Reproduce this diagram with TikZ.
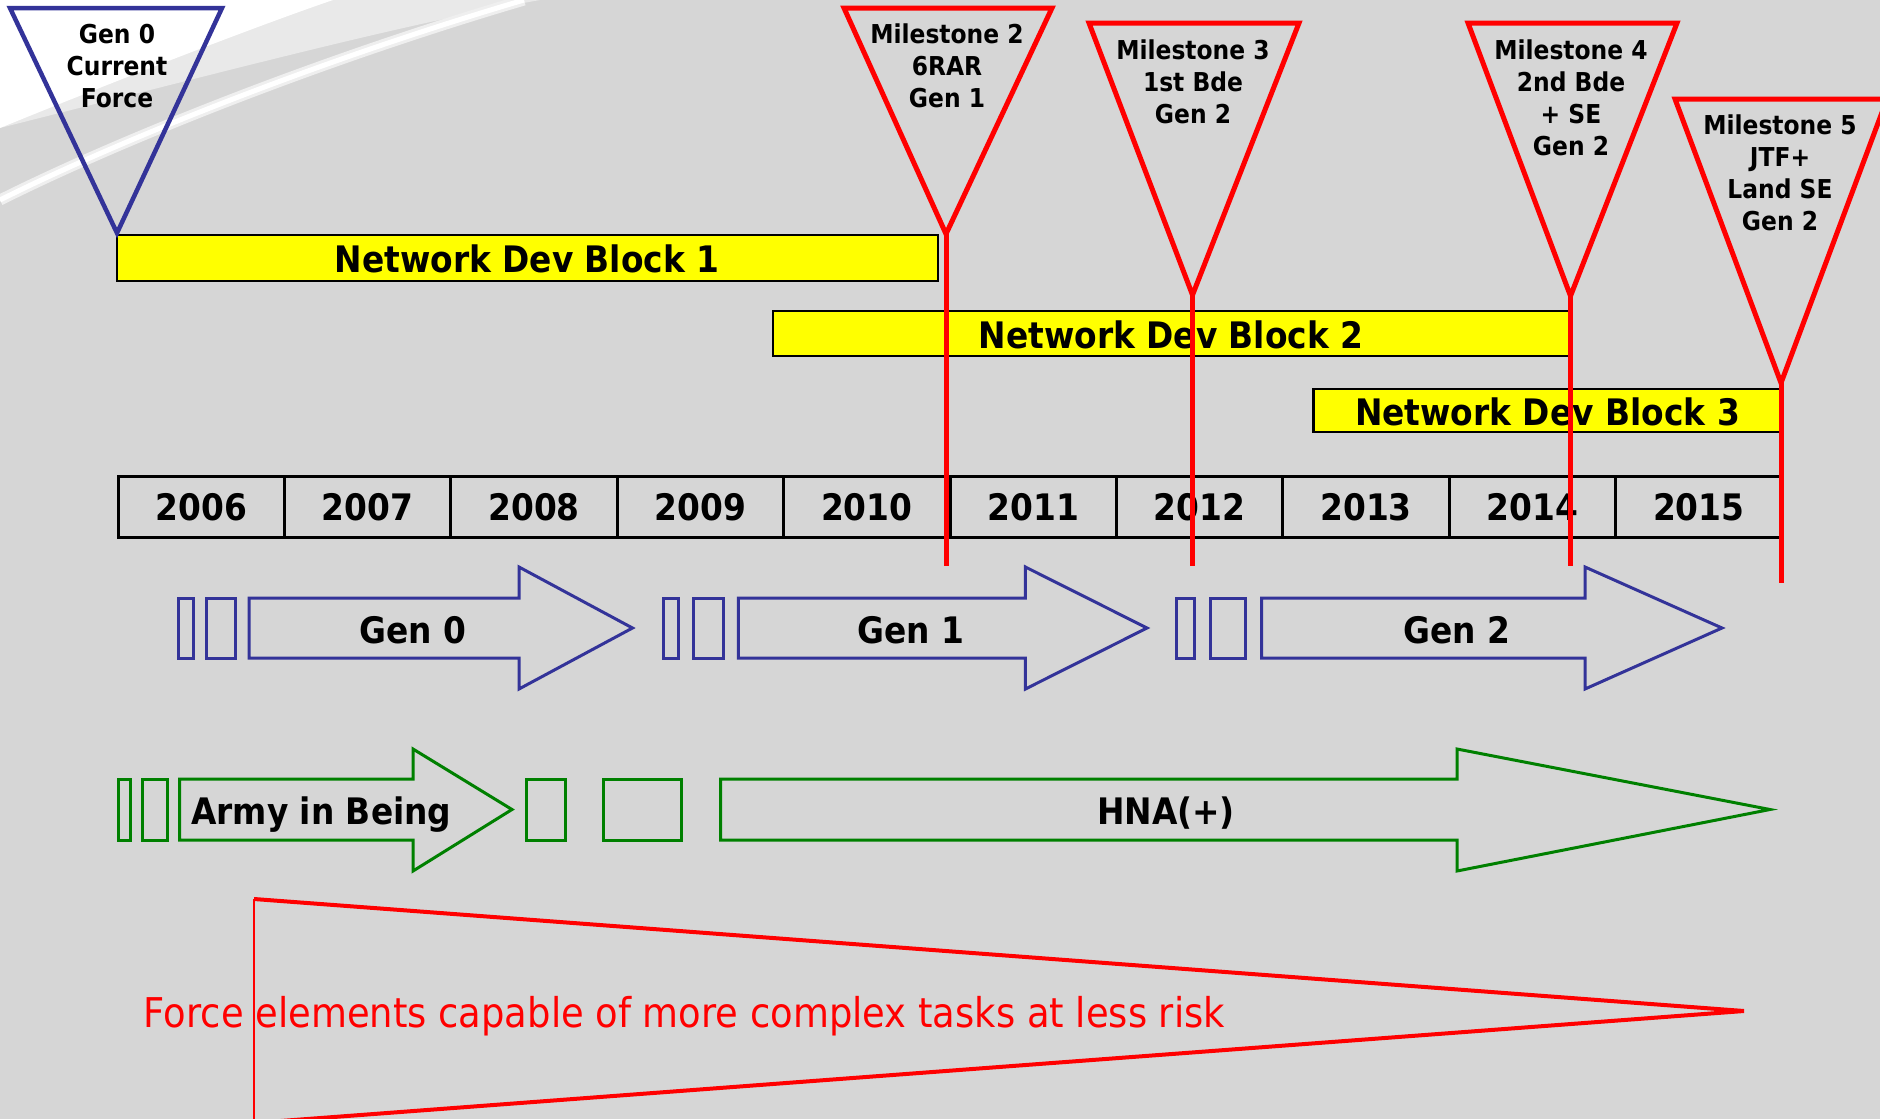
\documentclass[tikz,border=0pt]{standalone}
\usepackage{fontspec}
\setmainfont[FakeStretch=0.9]{DejaVu Sans}
\definecolor{bgc}{RGB}{214,214,214}
\definecolor{navyb}{RGB}{51,51,153}
\definecolor{grn}{RGB}{0,128,0}
\definecolor{ylw}{RGB}{255,255,0}
\tikzset{
  ybox/.style={draw=black, line width=2.5pt, fill=ylw},
  bigtxt/.style={font=\bfseries\fontsize{36.5}{40}\selectfont, inner sep=0pt},
  smalltxt/.style={font=\bfseries\fontsize{26}{32}\selectfont, align=center, inner sep=0pt},
  redtri/.style={draw=red, line width=5pt, line join=miter},
  bluetri/.style={draw=navyb, line width=4.5pt, line join=miter},
  mline/.style={draw=red, line width=5pt},
  bluearr/.style={draw=navyb, line width=3pt},
  greenarr/.style={draw=grn, line width=3pt},
  yearcell/.style={draw=black, line width=3pt, minimum width=166.4pt, minimum height=60.5pt, inner sep=0pt, font=\bfseries\fontsize{36.5}{40}\selectfont},
  redtxt/.style={text=red, font=\fontsize{41}{46}\selectfont, inner sep=0pt}
}
\begin{document}
\begin{tikzpicture}[x=1pt,y=-1pt]
\useasboundingbox (0,0) rectangle (1880,1119);
\fill[bgc] (0,0) rectangle (1880,1119);
% background swoosh
\fill[white!45!bgc] (0,0) -- (540,0) .. controls (400,25) and (250,65) .. (0,128) -- cycle;
\fill[white] (0,0) -- (333,0) .. controls (260,25) and (130,75) .. (0,128) -- cycle;
\draw[white!60!bgc, line width=11pt] (0,200) .. controls (120,140) and (320,60) .. (524,0);
\draw[white, line width=5pt] (0,200) .. controls (120,140) and (320,60) .. (524,0);

% yellow blocks
\draw[ybox] (117,235) rectangle (938,281);
\node[bigtxt] (b1) at (527,259) {Network Dev Block 1};
\draw[ybox] (773,311) rectangle (1569,356);
\node[bigtxt] (b2) at (1171,334.5) {Network Dev Block 2};
\draw[ybox] (1313.6,389) rectangle (1781.5,432);
\node[bigtxt] (b3) at (1547.5,411.5) {Network Dev Block 3};

% timeline
\foreach \yr [count=\i from 0] in {2006,2007,2008,2009,2010,2011,2012,2013,2014,2015}
  \node[yearcell] (y\yr) at ({201.2+166.4*\i},507) {\yr};

% Gen 0 triangle
\coordinate (g0a) at (117,233);
\draw[bluetri] (10,8) -- (222,8) -- (g0a) -- cycle;
\node[smalltxt] (g0t) at (117,66) {Gen 0\\Current\\Force};

% milestone triangles
\coordinate (m2a) at (946,234);
\coordinate (m2b) at (946,566);
\draw[redtri] (844,8) -- (1052,8) -- (m2a) -- cycle;
\node[smalltxt] (m2t) at (947,66) {Milestone 2\\6RAR\\Gen 1};

\coordinate (m3a) at (1192.5,295);
\coordinate (m3b) at (1192.5,566);
\draw[redtri] (1089,23) -- (1299,23) -- (m3a) -- cycle;
\node[smalltxt] (m3t) at (1193,82) {Milestone 3\\1st Bde\\Gen 2};

\coordinate (m4a) at (1570.5,296);
\coordinate (m4b) at (1570.5,566);
\draw[redtri] (1468,23) -- (1677,23) -- (m4a) -- cycle;
\node[smalltxt] (m4t) at (1571,98) {Milestone 4\\2nd Bde\\+ SE\\Gen 2};

\coordinate (m5a) at (1781,383);
\coordinate (m5b) at (1781,582.5);
\draw[redtri] (1675,99) -- (1887,99) -- (m5a) -- cycle;
\node[smalltxt] (m5t) at (1780,173) {Milestone 5\\JTF+\\Land SE\\Gen 2};

% blue generation arrows
\draw[bluearr] (178.4,598) rectangle (193.7,658);
\draw[bluearr] (206.5,598) rectangle (235.8,658);
\draw[bluearr] (249,598) -- (519,598) -- (519,567) -- (632.5,628) -- (519,689) -- (519,658) -- (249,658) -- cycle;
\node[bigtxt] (gen0) at (412.5,630) {Gen 0};

\draw[bluearr] (663,598) rectangle (678.4,658);
\draw[bluearr] (693,598) rectangle (723,658);
\draw[bluearr] (738.4,598) -- (1025.4,598) -- (1025.4,567) -- (1147,628) -- (1025.4,689) -- (1025.4,658) -- (738.4,658) -- cycle;
\node[bigtxt] (gen1) at (910.7,630) {Gen 1};

\draw[bluearr] (1176,598) rectangle (1194,658);
\draw[bluearr] (1210,598) rectangle (1245,658);
\draw[bluearr] (1261.7,598) -- (1585,598) -- (1585,567) -- (1722,628) -- (1585,689) -- (1585,658) -- (1261.7,658) -- cycle;
\node[bigtxt] (gen2) at (1457,630) {Gen 2};

% green arrows
\draw[greenarr] (118.5,779) rectangle (130.6,840);
\draw[greenarr] (142.7,779) rectangle (167.6,840);
\draw[greenarr] (179.7,779) -- (413,779) -- (413,749) -- (512,809.5) -- (413,871) -- (413,840) -- (179.7,840) -- cycle;
\node[bigtxt, anchor=west] (aib) at (191,815) {Army in Being};
\draw[greenarr] (526,779) rectangle (565.6,840);
\draw[greenarr] (603.8,779) rectangle (681.6,840);
\draw[greenarr] (720.5,779) -- (1457,779) -- (1457,749) -- (1770,809.5) -- (1457,871) -- (1457,840) -- (720.5,840) -- cycle;
\node[bigtxt] (hna) at (1166,813) {HNA(+)};

% milestone lines
\draw[mline] (m2a) -- (m2b);
\draw[mline] (m3a) -- (m3b);
\draw[mline] (m4a) -- (m4b);
\draw[mline] (m5a) -- (m5b);

% capability wedge
\coordinate (wt) at (254,899);
\coordinate (wb) at (254,1123);
\coordinate (wtip) at (1744,1011);
\draw[red, line width=1.5pt] (wt) -- (wb);
\draw[red, line width=4pt, line join=miter] (wt) -- (wtip) -- (wb);
\node[redtxt] (cap) at (684.5,1016) {Force elements capable of more complex tasks at less risk};
\end{tikzpicture}
\end{document}
